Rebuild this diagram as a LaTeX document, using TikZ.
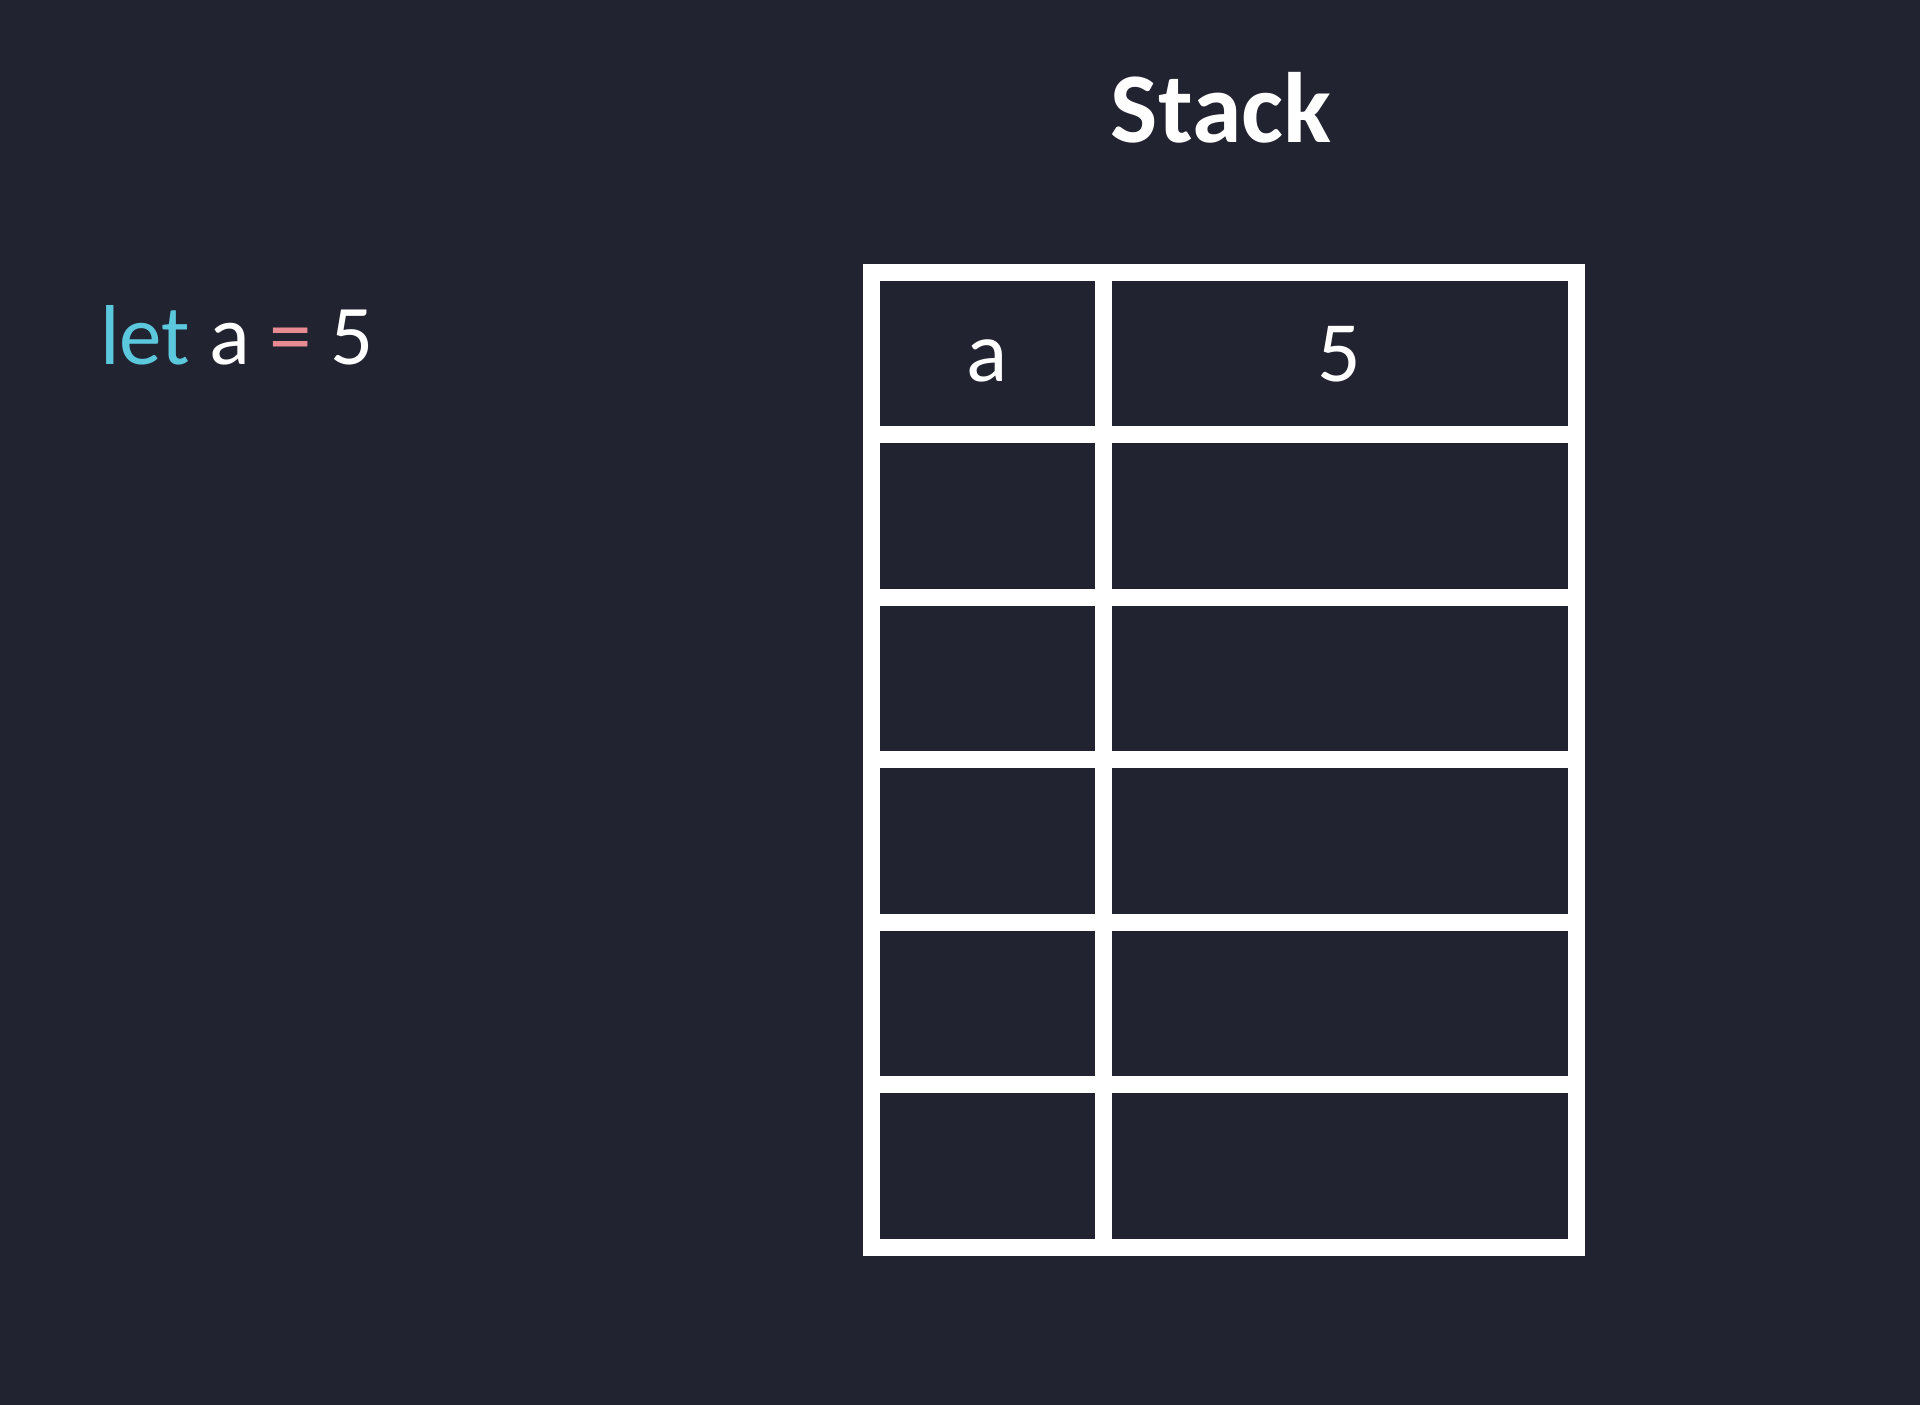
\documentclass[tikz,border=0pt]{standalone}
\usepackage{fontspec}
\setmainfont[Numbers=Lining]{Carlito}
\definecolor{bg}{RGB}{33,35,48}
\definecolor{kw}{RGB}{92,200,222}
\definecolor{op}{RGB}{232,138,146}
\begin{document}
\begin{tikzpicture}[x=1pt,y=-1pt,
  grid/.style={draw=white,line width=17pt},
  txt/.style={text=white,inner sep=0pt,anchor=base},
]
\useasboundingbox (0,0) rectangle (1920,1405);
\fill[bg] (0,0) rectangle (1920,1405);
% title
\node[txt,font=\fontsize{100}{105}\selectfont\bfseries] (title) at (1221,142) {Stack};
% code
\node[txt,anchor=base west,font=\fontsize{85}{90}\selectfont] (code) at (100,364)
  {{\color{kw}let} a {\color{op}=} 5};
% table
\draw[grid,line join=miter] (871,272) rectangle (1576,1247);
\foreach \y in {434.5,597,759.5,922,1084.5}
  \draw[grid] (871,\y) -- (1576,\y);
\draw[grid] (1103,272) -- (1103,1247);
\node[txt,font=\fontsize{86}{90}\selectfont] (name1) at (987,381) {a};
\node[txt,font=\fontsize{86}{90}\selectfont] (val1) at (1339.5,381) {5};
\end{tikzpicture}
\end{document}
